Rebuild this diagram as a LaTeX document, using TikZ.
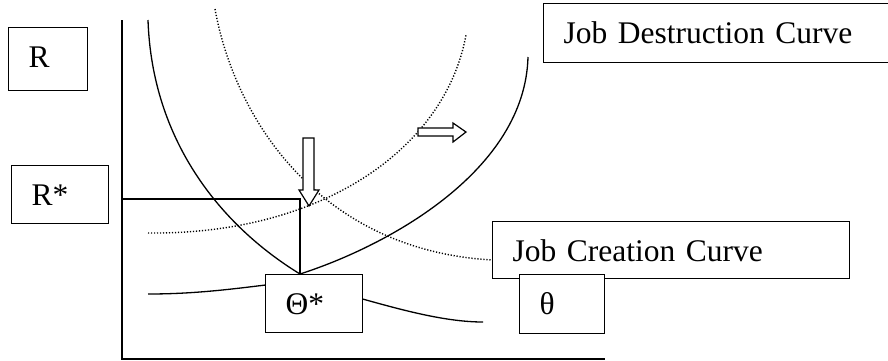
\documentclass[tikz,border=0pt]{standalone}
\usepackage{fontspec}
\setmainfont{Liberation Serif}
\begin{document}
\begin{tikzpicture}[x=1pt,y=-1pt,
  box/.style={draw,fill=white,line width=1.2pt,rectangle,anchor=north west,
    inner xsep=20pt,inner ysep=17pt,text height=23pt,align=left,
    font=\fontsize{31.5}{38}\selectfont},
  curve/.style={line width=1.3pt},
  dotcurve/.style={line width=1.4pt,dash pattern=on 1.2pt off 1.8pt},
  axis/.style={line width=1.3pt},
  blockarrow/.style={draw,fill=white,line width=1.2pt}]
\useasboundingbox (0,0) rectangle (888,360);
% axes
\coordinate (ytop) at (122,20);
\coordinate (origin) at (122,359);
\coordinate (xend) at (605,359);
\draw[axis] (ytop) -- (origin) -- (xend);
% dotted curves
\coordinate (d1a) at (215,9);
\coordinate (d1b) at (492,260);
\draw[dotcurve] (d1a) .. controls (235,120) and (320,250) .. (d1b);
\coordinate (d2a) at (148,233);
\coordinate (d2b) at (466,35);
\draw[dotcurve] (d2a) .. controls (320,235) and (445,150) .. (d2b);
% solid U curve (job destruction)
\coordinate (ua) at (148,20);
\coordinate (umin) at (300,274);
\coordinate (ub) at (528,57);
\draw[curve] (ua) .. controls (152,140) and (220,225) .. (umin)
  .. controls (390,245) and (525,170) .. (ub);
% bottom solid curve
\coordinate (ba) at (148,294);
\coordinate (bmid) at (290,282);
\coordinate (bb) at (483,322);
\draw[curve] (ba) .. controls (200,294) and (240,288) .. (bmid)
  .. controls (340,288) and (420,322) .. (bb);
% R* lines
\coordinate (rsaxis) at (122,199);
\coordinate (rscorner) at (300,199);
\draw[axis] (rsaxis) -- (rscorner) -- (umin);
% block arrows
\draw[blockarrow] (303,138) -- (314,138) -- (314,190) -- (319,190) -- (309,206) -- (299,190) -- (303,190) -- cycle;
\draw[blockarrow] (418,128) -- (453,128) -- (453,123) -- (466,132) -- (453,142) -- (453,136) -- (418,136) -- cycle;
% boxes
\node[box,text width=39pt,text depth=6pt] (R) at (8,27) {R};
\node[box,text width=57pt,text depth=1pt] (Rstar) at (11,165) {R*};
\node[box,text width=305pt,text depth=2pt] (jd) at (543,3) {Job Destruction Curve};
\node[box,text width=317pt,text depth=0pt] (jc) at (492,221) {Job Creation Curve};
\node[box,text width=45pt,text depth=2pt] (theta) at (519,274) {θ};
\node[box,text width=57pt,text depth=1pt] (thetastar) at (265,274) {Θ*};
\end{tikzpicture}
\end{document}
